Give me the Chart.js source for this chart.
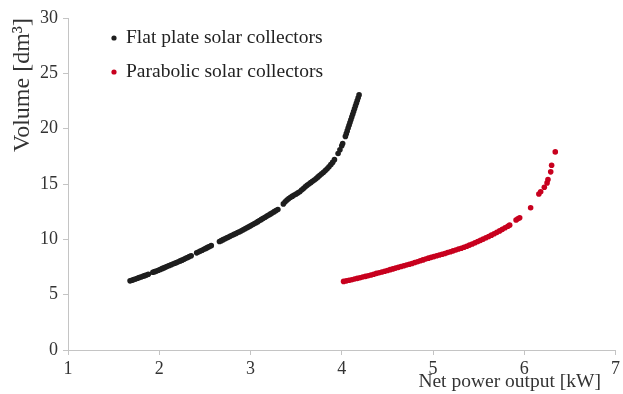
<!DOCTYPE html>
<html>
<head>
<meta charset="utf-8">
<script src="https://cdn.jsdelivr.net/npm/chart.js@4.4.1/dist/chart.umd.min.js"></script>
<style>
  html, body { margin: 0; padding: 0; background: #fff; }
  #wrap { width: 623px; height: 394px; }
</style>
</head>
<body>
<div id="wrap"><canvas id="chart"></canvas></div>
<script>
// series labels
const seriesNames = ['Flat plate solar collectors', 'Parabolic solar collectors'];

// Flat plate solar collectors: net power [kW] / volume [dm3]
const flatX = [1.68,1.70,1.72,1.74,1.76,1.78,1.80,1.82,1.84,1.86,1.88,
  1.93,1.95,1.97,1.99,2.01,2.03,2.05,2.07,2.09,2.11,2.13,2.15,2.17,2.19,2.21,2.23,2.25,2.27,2.29,2.31,2.33,2.35,
  2.41,2.43,2.45,2.47,2.49,2.51,2.53,2.55,2.57,
  2.66,2.68,2.70,2.72,2.74,2.76,2.78,2.80,2.82,2.84,2.86,2.88,2.90,2.92,2.94,2.96,2.98,3.00,3.02,3.04,3.06,3.08,3.10,3.12,3.14,3.16,3.18,3.20,3.22,3.24,3.26,3.28,3.30,
  3.36,3.38,3.40,3.42,3.44,3.46,3.48,3.50,3.52,3.54,3.56,3.58,3.60,3.62,3.64,3.66,3.68,3.70,3.72,3.74,3.76,3.78,3.80,3.82,3.84,3.86,3.88,3.90,3.92,
  3.96,3.98,4.00,4.01,
  4.04,4.05,4.06,4.07,4.08,4.09,4.10,4.11,4.12,4.13,4.14,4.15,4.16,4.17,4.18,4.19];
const flatY = [6.25,6.30,6.36,6.42,6.48,6.54,6.60,6.66,6.72,6.78,6.84,
  7.02,7.08,7.14,7.21,7.28,7.35,7.42,7.49,7.56,7.63,7.70,7.77,7.84,7.91,7.98,8.05,8.12,8.20,8.28,8.36,8.44,8.52,
  8.78,8.86,8.94,9.02,9.10,9.18,9.27,9.35,9.43,
  9.80,9.88,9.97,10.05,10.13,10.21,10.29,10.37,10.45,10.53,10.61,10.69,10.78,10.86,10.95,11.04,11.13,11.22,11.31,11.40,11.50,11.60,11.70,11.80,11.90,12.00,12.10,12.20,12.30,12.40,12.50,12.60,12.70,
  13.20,13.40,13.55,13.68,13.80,13.90,14.00,14.10,14.20,14.30,14.45,14.60,14.75,14.88,15.00,15.12,15.24,15.36,15.50,15.64,15.78,15.92,16.06,16.22,16.38,16.56,16.75,16.95,17.20,
  17.75,18.10,18.45,18.65,
  19.30,19.55,19.80,20.05,20.30,20.55,20.80,21.05,21.30,21.55,21.80,22.05,22.30,22.55,22.80,23.05];

// Parabolic solar collectors
const paraX = [4.02,4.05,4.08,4.11,4.14,4.17,4.20,4.23,4.26,4.29,4.32,4.35,4.38,4.41,4.44,4.47,4.50,4.53,4.56,4.59,
  4.62,4.65,4.68,4.71,4.74,4.77,4.80,4.83,4.86,4.89,4.92,4.95,4.98,5.01,5.04,5.07,5.10,5.13,5.16,5.19,
  5.22,5.25,5.28,5.31,5.34,5.37,5.40,5.43,5.46,5.49,5.52,5.55,5.58,5.61,5.64,5.67,5.70,5.73,5.76,5.79,5.82,5.84,
  5.91,5.93,5.95,6.07,6.16,6.18,6.22,6.25,6.26,6.29,6.30,6.34];
const paraY = [6.20,6.25,6.30,6.35,6.41,6.47,6.53,6.59,6.65,6.71,6.78,6.85,6.92,6.98,7.05,7.12,7.19,7.26,7.33,7.40,
  7.47,7.54,7.61,7.68,7.75,7.82,7.90,7.98,8.06,8.14,8.22,8.30,8.37,8.44,8.51,8.58,8.65,8.72,8.80,8.88,
  8.96,9.04,9.12,9.20,9.29,9.38,9.48,9.58,9.69,9.80,9.91,10.02,10.14,10.26,10.38,10.50,10.63,10.76,10.90,11.04,11.18,11.28,
  11.75,11.85,11.95,12.85,14.10,14.30,14.70,15.10,15.40,16.10,16.70,17.90];

const colors = ['#1e1e1e', '#c8001e'];
const serif = "'Liberation Serif', 'Times New Roman', serif";

const toPoints = (xs, ys) => xs.map((x, i) => ({ x: x, y: ys[i] }));

// legend drawn inside the plot area, stacked, like the original
const innerLegend = {
    id: 'innerLegend',
    afterDraw(chart) {
        const ctx = chart.ctx;
        ctx.save();
        ctx.font = '19.5px ' + serif;
        ctx.textBaseline = 'middle';
        chart.data.datasets.forEach((ds, i) => {
            const y = 38 + i * 34;
            ctx.fillStyle = ds.backgroundColor;
            ctx.beginPath();
            ctx.arc(114, y, 2.6, 0, Math.PI * 2);
            ctx.fill();
            ctx.fillStyle = '#222';
            ctx.fillText(ds.label, 126, y);
        });
        ctx.restore();
    }
};

new Chart(document.getElementById('chart'), {
    type: 'scatter',
    data: {
        datasets: [
            { label: seriesNames[0], data: toPoints(flatX, flatY), backgroundColor: colors[0], borderColor: colors[0], pointRadius: 2.8, borderWidth: 0 },
            { label: seriesNames[1], data: toPoints(paraX, paraY), backgroundColor: colors[1], borderColor: colors[1], pointRadius: 2.8, borderWidth: 0 }
        ]
    },
    options: {
        responsive: true,
        maintainAspectRatio: false,
        animation: false,
        layout: { padding: { top: 18, right: 5, bottom: 0, left: 0 } },
        plugins: { legend: { display: false }, tooltip: { enabled: false } },
        scales: {
            x: {
                type: 'linear', min: 1, max: 7,
                border: { color: '#c4c4c4' },
                grid: { drawOnChartArea: false, drawTicks: true, tickLength: 5, color: '#c4c4c4' },
                ticks: { stepSize: 1, padding: 3, color: '#333', font: { family: serif, size: 18 } },
                // trailing spaces pull the title in from the right end, as in the original
                title: { display: true, text: 'Net power output [kW]\u00a0\u00a0\u00a0', align: 'end', color: '#333', font: { family: serif, size: 19.5 }, padding: { top: 0, bottom: 0 } },
                afterFit(scale) { scale.height = 44; }
            },
            y: {
                min: 0, max: 30,
                border: { color: '#c4c4c4' },
                grid: { drawOnChartArea: false, drawTicks: true, tickLength: 5, color: '#c4c4c4' },
                ticks: { stepSize: 5, padding: 5, color: '#333', font: { family: serif, size: 18 } },
                title: { display: true, text: 'Volume [dm³]', align: 'end', color: '#333', font: { family: serif, size: 24 }, padding: { top: 8, bottom: 0 } },
                afterFit(scale) { scale.width = 68; }
            }
        }
    },
    plugins: [innerLegend]
});
</script>
</body>
</html>
